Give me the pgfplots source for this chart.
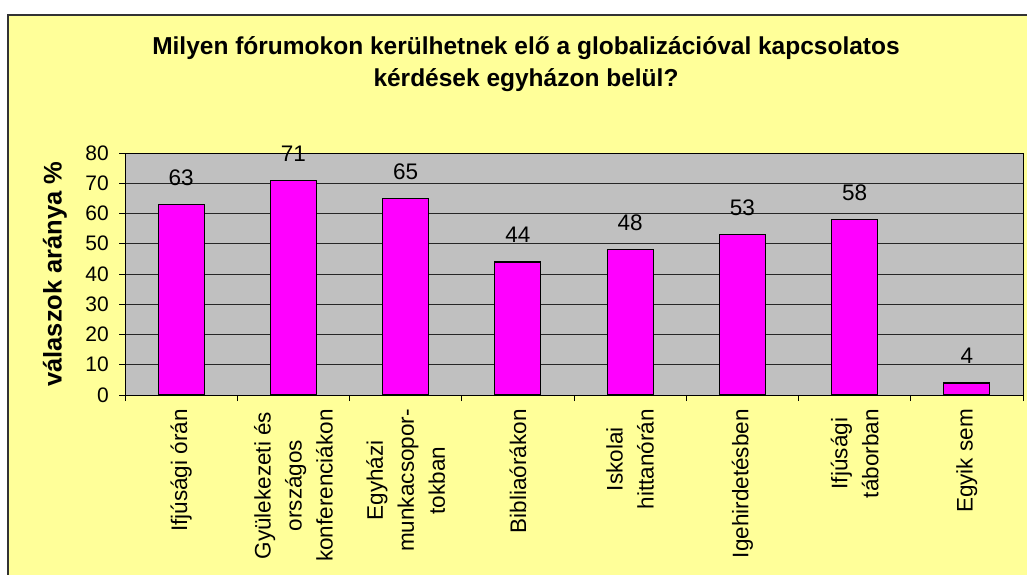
\documentclass[border=0pt]{standalone}
\usepackage{fontspec}
\setmainfont{Liberation Sans}
\usepackage{pgfplots}
\pgfplotsset{compat=1.18}
\definecolor{bgyellow}{HTML}{FFFF99}
\definecolor{plotgray}{HTML}{C0C0C0}
\definecolor{barmag}{HTML}{FF00FF}
\definecolor{bordergray}{HTML}{333333}
\begin{document}
\begin{tikzpicture}
\useasboundingbox (0pt,0pt) rectangle (1027pt,574pt);
\clip (0pt,0pt) rectangle (1027pt,574pt);
\fill[white] (0pt,0pt) rectangle (1027pt,574pt);
\filldraw[fill=bgyellow, draw=bordergray, line width=2pt] (8.3pt,-20pt) rectangle (1100pt,559.2pt);
\node[font=\bfseries\fontsize{24.5}{32}\selectfont, align=center] at (526pt,510pt)
  {Milyen fórumokon kerülhetnek elő a globalizációval kapcsolatos\\kérdések egyházon belül?};
\begin{axis}[
  at={(125pt,179pt)}, anchor=south west,
  width=898pt, height=242pt, scale only axis,
  xmin=-0.5, xmax=7.5, ymin=0, ymax=80,
  axis background/.style={fill=plotgray},
  ybar, bar width=46pt,
  /pgf/number format/assume math mode=true,
  xtick={0,...,7},
  xticklabels={{Ifjúsági órán},{Gyülekezeti és\\országos\\konferenciákon},{Egyházi\\munkacsopor-\\tokban},{Bibliaórákon},{Iskolai\\hittanórán},{Igehirdetésben},{Ifjúsági\\táborban},{Egyik sem}},
  minor xtick={-0.5,0.5,...,7.5},
  ytick={0,10,...,80},
  minor ytick={0,10,...,80},
  major tick length=0pt, minor tick length=6pt,
  tick align=outside, tick pos=left,
  ymajorgrids, grid style={black!85, line width=0.8pt},
  axis line style={black, line width=1pt},
  minor tick style={black, line width=1pt},
  xticklabel style={rotate=90, anchor=east, align=center, inner xsep=14pt, inner ysep=0pt,
     font=\fontsize{22.5}{31}\selectfont},
  yticklabel style={font=\fontsize{21}{21}\selectfont, inner xsep=16pt},
  ylabel={válaszok aránya \%},
  ylabel style={at={(rel axis cs:0,0.5)}, anchor=center, yshift=70pt,
     font=\bfseries\fontsize{25.5}{25.5}\selectfont},
  nodes near coords,
  nodes near coords style={font=\fontsize{22.5}{22.5}\selectfont, anchor=base, yshift=19pt, black},
]
\addplot[fill=barmag, draw=black, line width=1.2pt] coordinates {
  (0,63) (1,71) (2,65) (3,44) (4,48) (5,53) (6,58) (7,4)
};
\end{axis}
\end{tikzpicture}
\end{document}
